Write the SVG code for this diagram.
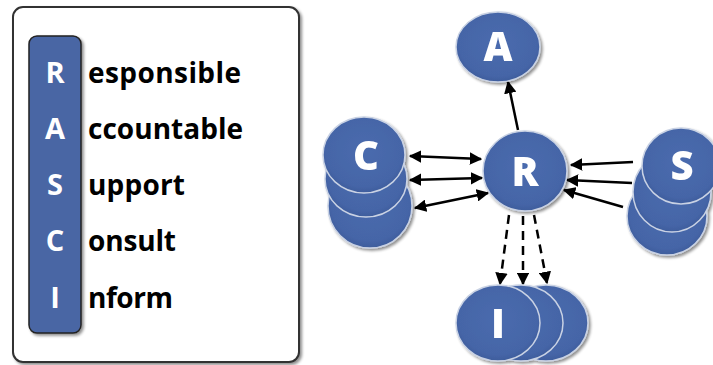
<svg xmlns="http://www.w3.org/2000/svg" width="713" height="365" viewBox="0 0 713 365">
  <defs>
    <filter id="shadow" x="-20%" y="-20%" width="140%" height="140%">
      <feGaussianBlur in="SourceAlpha" stdDeviation="1.5"/>
      <feOffset dx="1.5" dy="2" result="b"/>
      <feComponentTransfer><feFuncA type="linear" slope="0.45"/></feComponentTransfer>
      <feMerge><feMergeNode/><feMergeNode in="SourceGraphic"/></feMerge>
    </filter>
    <radialGradient id="disc" cx="50%" cy="45%" r="55%">
      <stop offset="0" stop-color="#4a6bae"/>
      <stop offset="0.85" stop-color="#4565a7"/>
      <stop offset="1" stop-color="#3f5d9c"/>
    </radialGradient>
    <marker id="ah" viewBox="0 0 10 10" refX="9" refY="5" markerWidth="5" markerHeight="5" orient="auto-start-reverse">
      <path d="M0,0 L10,5 L0,10 Z" fill="#000"/>
    </marker>
    <style>
      .panel { fill: #fff; stroke: #333; stroke-width: 2; }
      .bar { fill: #4a66a4; stroke: #222; stroke-width: 1.5; }
      .barL { font-family: "Open Sans", "Liberation Sans", sans-serif; font-weight: 700; font-size: 29px; fill: #fff; text-anchor: middle; }
      .word { font-family: "Open Sans", "Liberation Sans", sans-serif; font-weight: 700; font-size: 28px; fill: #000; }
      .node ellipse { fill: url(#disc); stroke: #c9d2e4; stroke-width: 1.5; }
      .nodeL { font-family: "Open Sans", "Liberation Sans", sans-serif; font-weight: 800; font-size: 40px; fill: #fff; text-anchor: middle; }
      .con line { stroke: #000; stroke-width: 2.5; }
      .solid { marker-end: url(#ah); }
      .both { marker-start: url(#ah); marker-end: url(#ah); }
      .dash { stroke-dasharray: 9 6; marker-end: url(#ah); }
    </style>
  </defs>

  <!-- legend panel -->
  <g id="legend">
    <rect class="panel" x="13" y="7" width="286" height="355" rx="10" filter="url(#shadow)"/>
    <rect class="bar" x="29" y="36" width="52" height="297" rx="8" filter="url(#shadow)"/>
    <text class="barL" x="55" y="83">R</text>
    <text class="barL" x="55" y="139">A</text>
    <text class="barL" x="55" y="195">S</text>
    <text class="barL" x="55" y="251">C</text>
    <text class="barL" x="55" y="308">I</text>
    <text class="word" x="88" y="83" textLength="153">esponsible</text>
    <text class="word" x="88" y="139" textLength="155">ccountable</text>
    <text class="word" x="88" y="195" textLength="97">upport</text>
    <text class="word" x="88" y="251" textLength="88">onsult</text>
    <text class="word" x="88" y="308" textLength="85">nform</text>
  </g>

  <!-- connectors -->
  <g id="connectors" class="con">
    <line class="solid" x1="518" y1="130" x2="508" y2="82"/>
    <line class="both" x1="410" y1="156" x2="481" y2="159"/>
    <line class="both" x1="410" y1="180" x2="482" y2="178"/>
    <line class="both" x1="415" y1="208" x2="488" y2="193"/>
    <line class="solid" x1="633" y1="162" x2="571" y2="165"/>
    <line class="solid" x1="632" y1="183" x2="567" y2="180"/>
    <line class="solid" x1="623" y1="207" x2="564" y2="190"/>
    <line class="dash" x1="509" y1="215" x2="500" y2="284"/>
    <line class="dash" x1="523" y1="216" x2="523" y2="284"/>
    <line class="dash" x1="534" y1="215" x2="547" y2="283"/>
  </g>

  <!-- accountable -->
  <g id="node-A" class="node" filter="url(#shadow)">
    <ellipse cx="498" cy="47" rx="42" ry="35"/>
    <text class="nodeL" x="498" y="61">A</text>
  </g>

  <!-- responsible -->
  <g id="node-R" class="node" filter="url(#shadow)">
    <ellipse cx="525" cy="171" rx="42" ry="40"/>
    <text class="nodeL" x="525" y="186">R</text>
  </g>

  <!-- consulted stack -->
  <g id="node-C" class="node" filter="url(#shadow)">
    <ellipse cx="370" cy="206" rx="42" ry="42"/>
    <ellipse cx="366" cy="179" rx="41" ry="38"/>
    <ellipse cx="364" cy="155" rx="41" ry="38"/>
    <text class="nodeL" x="366" y="170">C</text>
  </g>

  <!-- supporting stack -->
  <g id="node-S" class="node" filter="url(#shadow)">
    <ellipse cx="667" cy="216" rx="40" ry="39"/>
    <ellipse cx="672" cy="192" rx="39" ry="40"/>
    <ellipse cx="681" cy="166" rx="39" ry="38"/>
    <text class="nodeL" x="682" y="180">S</text>
  </g>

  <!-- informed stack -->
  <g id="node-I" class="node" filter="url(#shadow)">
    <ellipse cx="546" cy="323" rx="42" ry="38"/>
    <ellipse cx="521" cy="323" rx="42" ry="38"/>
    <ellipse cx="498" cy="323" rx="42" ry="38"/>
    <text class="nodeL" x="498" y="338">I</text>
  </g>
</svg>
